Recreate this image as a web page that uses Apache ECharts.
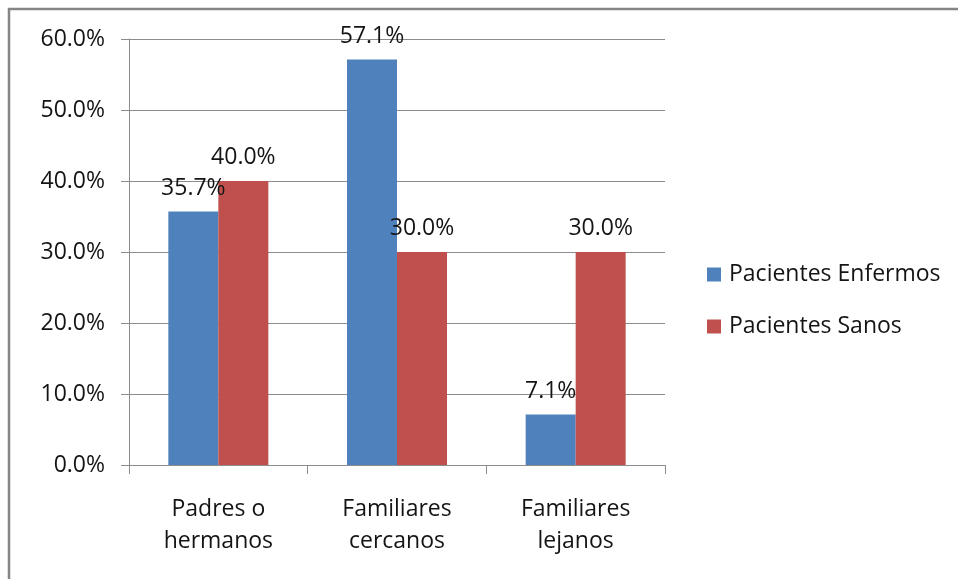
<!DOCTYPE html>
<html>
<head>
<meta charset="utf-8">
<script src="https://cdn.jsdelivr.net/npm/echarts@6/dist/echarts.min.js"></script>
<style>
  html, body { margin: 0; padding: 0; background: #fff; }
  #chart { width: 958px; height: 579px; }
</style>
</head>
<body>
<div id="chart"></div>
<script>
// Antecedentes familiares: porcentaje por grupo de pacientes
const categories = ['Padres o\nhermanos', 'Familiares\ncercanos', 'Familiares\nlejanos'];
const enfermos = [35.7, 57.1, 7.1];
const sanos = [40.0, 30.0, 30.0];
const seriesNames = ['Pacientes Enfermos', 'Pacientes Sanos'];
const yTicks = { min: 0, max: 60, interval: 10 };

const FONT = 'Open Sans';
const TEXT = '#141414';
const LINE = '#8c8c8c';
const FS = 23;

const chart = echarts.init(document.getElementById('chart'), null, { renderer: 'canvas' });

const pct = v => Number(v).toFixed(1) + '%';

const barLabel = {
  show: true,
  position: 'top',
  distance: 12,
  color: TEXT,
  fontFamily: FONT,
  fontSize: FS,
  formatter: p => pct(p.value)
};

chart.setOption({
  animation: false,
  backgroundColor: '#fff',
  textStyle: { fontFamily: FONT },
  graphic: [{
    type: 'rect',
    shape: { x: 9, y: 9, width: 1200, height: 1200 },
    style: { fill: 'none', stroke: '#858585', lineWidth: 2.5 },
    silent: true
  }],
  grid: { left: 129, right: 293, top: 39, bottom: 114, containLabel: false },
  legend: {
    orient: 'vertical',
    left: 707,
    top: 263,
    padding: 0,
    icon: 'rect',
    itemWidth: 14,
    itemHeight: 14,
    itemGap: 29,
    data: seriesNames,
    textStyle: {
      color: TEXT, fontFamily: FONT, fontSize: FS, lineHeight: 20,
      padding: [0, 0, 0, 3]
    }
  },
  xAxis: {
    type: 'category',
    data: categories,
    boundaryGap: true,
    axisLine: { lineStyle: { color: LINE, width: 1 } },
    axisTick: { show: true, length: 9, alignWithLabel: false, lineStyle: { color: LINE } },
    axisLabel: {
      color: TEXT, fontFamily: FONT, fontSize: FS, lineHeight: 32,
      margin: 28, interval: 0
    }
  },
  yAxis: {
    type: 'value',
    min: yTicks.min,
    max: yTicks.max,
    interval: yTicks.interval,
    axisLine: { show: true, lineStyle: { color: LINE, width: 1 } },
    axisTick: { show: true, length: 8, lineStyle: { color: LINE } },
    splitLine: { show: true, lineStyle: { color: LINE, width: 1 } },
    axisLabel: {
      color: TEXT, fontFamily: FONT, fontSize: FS, margin: 24,
      formatter: v => pct(v)
    }
  },
  series: [
    {
      name: seriesNames[0],
      type: 'bar',
      data: enfermos,
      barWidth: 50,
      barGap: '0%',
      itemStyle: { color: '#4f81bd' },
      label: barLabel
    },
    {
      name: seriesNames[1],
      type: 'bar',
      data: sanos,
      barWidth: 50,
      barGap: '0%',
      itemStyle: { color: '#c0504d' },
      label: barLabel
    }
  ]
});
</script>
</body>
</html>
